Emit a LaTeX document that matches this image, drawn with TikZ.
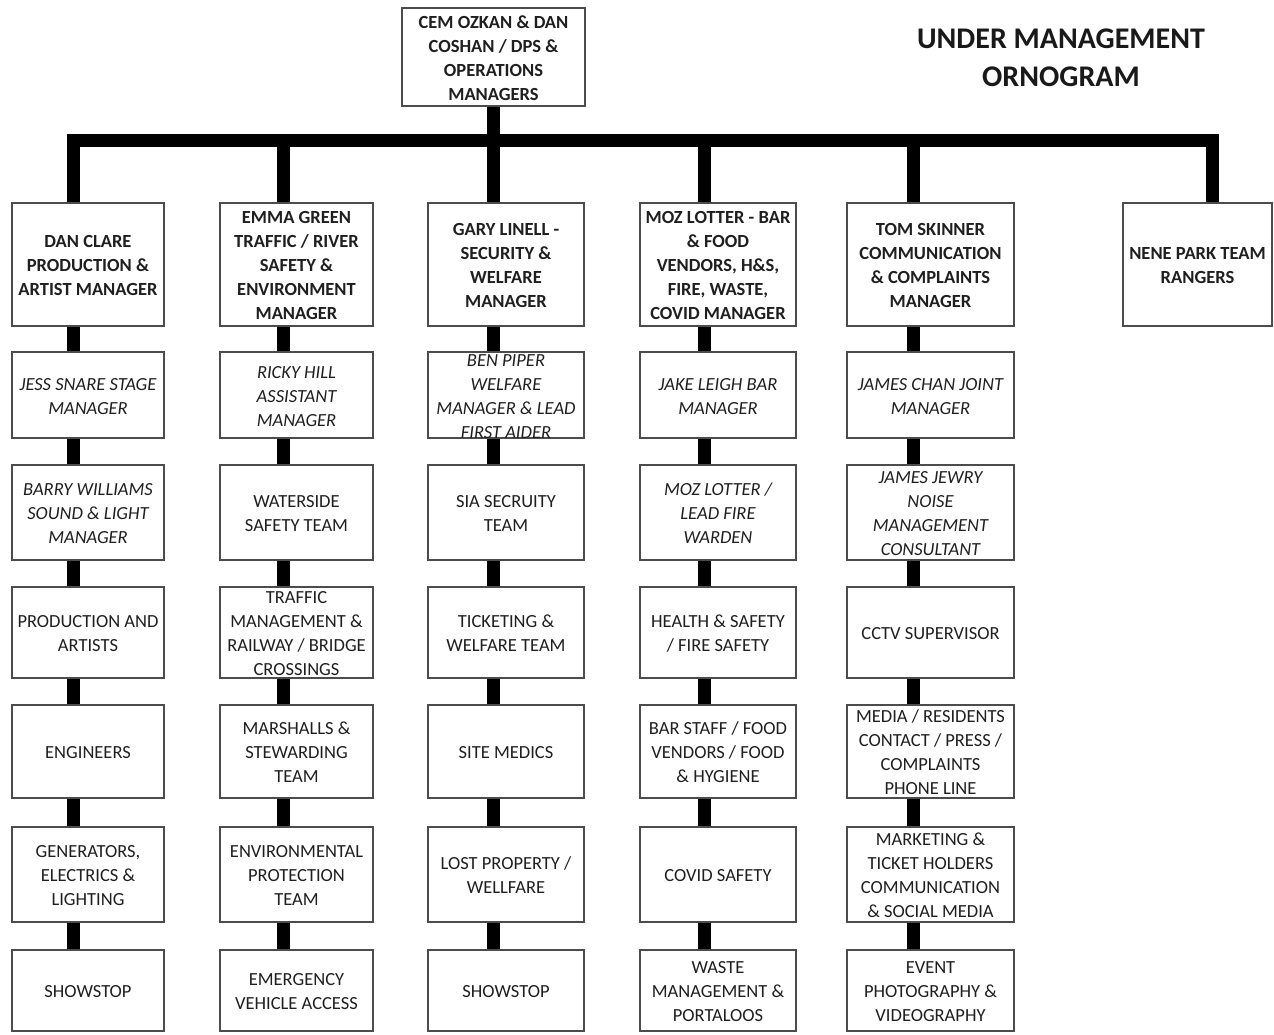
\documentclass[tikz,border=0pt]{standalone}
\usepackage{fontspec}
\setmainfont{Carlito}
\newcommand\tx[1]{\vbox to 0pt{\kern5pt\vss\hbox to 0pt{\hss\begin{tabular}{@{}c@{}}#1\end{tabular}\hss}\vss}}
\newcommand\ttx[1]{\vbox to 0pt{\vss\hbox to 0pt{\hss\begin{tabular}{@{}c@{}}#1\end{tabular}\hss}\vss}}
\tikzset{
  box/.style={draw=black!70, line width=1.4pt, fill=white, inner sep=0pt, text=black!88,
    font=\fontsize{18.5}{24}\selectfont},
  mgr/.style={box, font=\fontsize{18.5}{24}\selectfont\bfseries},
  asst/.style={box, font=\fontsize{18.5}{24}\selectfont\itshape},
  team/.style={box},
  conn/.style={line width=13pt, black, line join=miter},
  c1/.style={minimum width=152pt}, c2/.style={minimum width=153pt},
  c3/.style={minimum width=156pt}, c4/.style={minimum width=156pt},
  c5/.style={minimum width=167pt}, c6/.style={minimum width=149pt},
  r1/.style={minimum height=123pt}, r2/.style={minimum height=86pt},
  r3/.style={minimum height=95pt}, r4/.style={minimum height=91pt},
  r5/.style={minimum height=93pt}, r6/.style={minimum height=95pt},
  r7/.style={minimum height=81pt},
  title/.style={inner sep=0pt, text=black!90, font=\fontsize{30}{38}\selectfont\bfseries}
}
\begin{document}
\begin{tikzpicture}[x=1pt, y=-1pt]
\useasboundingbox (0,0) rectangle (1274,1034);
\fill[white] (0,0) rectangle (1274,1034);

% title
\node[title] (ttl) at (1061,60) {\ttx{UNDER MANAGEMENT\\ORNOGRAM}};

% top box
\node[mgr, minimum width=183pt, minimum height=98pt] (top) at (493.5,57)
  {\tx{CEM OZKAN \& DAN\\COSHAN / DPS \&\\OPERATIONS\\MANAGERS}};

% bus coordinates
\coordinate (k0) at (493.5,140);
\coordinate (k1) at (73.5,140);
\coordinate (k2) at (283,140);
\coordinate (k3) at (493.5,140);
\coordinate (k4) at (704.5,140);
\coordinate (k5) at (913.5,140);
\coordinate (k6) at (1212,140);

% column 1
\node[mgr,c1,r1]  (a1) at (88,264.5) {\tx{DAN CLARE\\PRODUCTION \&\\ARTIST MANAGER}};
\node[asst,c1,r2] (a2) at (88,395)   {\tx{JESS SNARE STAGE\\MANAGER}};
\node[asst,c1,r3] (a3) at (88,512.5) {\tx{BARRY WILLIAMS\\SOUND \& LIGHT\\MANAGER}};
\node[team,c1,r4] (a4) at (88,632.5) {\tx{PRODUCTION AND\\ARTISTS}};
\node[team,c1,r5] (a5) at (88,751.5) {\tx{ENGINEERS}};
\node[team,c1,r6] (a6) at (88,874.5) {\tx{GENERATORS,\\ELECTRICS \&\\LIGHTING}};
\node[team,c1,r7] (a7) at (88,990.5) {\tx{SHOWSTOP}};

% column 2
\node[mgr,c2,r1]  (b1) at (296.5,264.5) {\tx{EMMA GREEN\\TRAFFIC / RIVER\\SAFETY \&\\ENVIRONMENT\\MANAGER}};
\node[asst,c2,r2] (b2) at (296.5,395)   {\tx{RICKY HILL\\ASSISTANT\\MANAGER}};
\node[team,c2,r3] (b3) at (296.5,512.5) {\tx{WATERSIDE\\SAFETY TEAM}};
\node[team,c2,r4] (b4) at (296.5,632.5) {\tx{TRAFFIC\\MANAGEMENT \&\\RAILWAY / BRIDGE\\CROSSINGS}};
\node[team,c2,r5] (b5) at (296.5,751.5) {\tx{MARSHALLS \&\\STEWARDING\\TEAM}};
\node[team,c2,r6] (b6) at (296.5,874.5) {\tx{ENVIRONMENTAL\\PROTECTION\\TEAM}};
\node[team,c2,r7] (b7) at (296.5,990.5) {\tx{EMERGENCY\\VEHICLE ACCESS}};

% column 3
\node[mgr,c3,r1]  (d1) at (506,264.5) {\tx{GARY LINELL -\\SECURITY \&\\WELFARE\\MANAGER}};
\node[asst,c3,r2] (d2) at (506,395)   {\tx{BEN PIPER\\WELFARE\\MANAGER \& LEAD\\FIRST AIDER}};
\node[team,c3,r3] (d3) at (506,512.5) {\tx{SIA SECRUITY\\TEAM}};
\node[team,c3,r4] (d4) at (506,632.5) {\tx{TICKETING \&\\WELFARE TEAM}};
\node[team,c3,r5] (d5) at (506,751.5) {\tx{SITE MEDICS}};
\node[team,c3,r6] (d6) at (506,874.5) {\tx{LOST PROPERTY /\\WELLFARE}};
\node[team,c3,r7] (d7) at (506,990.5) {\tx{SHOWSTOP}};

% column 4
\node[mgr,c4,r1]  (e1) at (718,264.5) {\tx{MOZ LOTTER - BAR\\\& FOOD\\VENDORS, H\&S,\\FIRE, WASTE,\\COVID MANAGER}};
\node[asst,c4,r2] (e2) at (718,395)   {\tx{JAKE LEIGH BAR\\MANAGER}};
\node[asst,c4,r3] (e3) at (718,512.5) {\tx{MOZ LOTTER /\\LEAD FIRE\\WARDEN}};
\node[team,c4,r4] (e4) at (718,632.5) {\tx{HEALTH \& SAFETY\\/ FIRE SAFETY}};
\node[team,c4,r5] (e5) at (718,751.5) {\tx{BAR STAFF / FOOD\\VENDORS / FOOD\\\& HYGIENE}};
\node[team,c4,r6] (e6) at (718,874.5) {\tx{COVID SAFETY}};
\node[team,c4,r7] (e7) at (718,990.5) {\tx{WASTE\\MANAGEMENT \&\\PORTALOOS}};

% column 5
\node[mgr,c5,r1]  (f1) at (930.5,264.5) {\tx{TOM SKINNER\\COMMUNICATION\\\& COMPLAINTS\\MANAGER}};
\node[asst,c5,r2] (f2) at (930.5,395)   {\tx{JAMES CHAN JOINT\\MANAGER}};
\node[asst,c5,r3] (f3) at (930.5,512.5) {\tx{JAMES JEWRY\\NOISE\\MANAGEMENT\\CONSULTANT}};
\node[team,c5,r4] (f4) at (930.5,632.5) {\tx{CCTV SUPERVISOR}};
\node[team,c5,r5] (f5) at (930.5,751.5) {\tx{MEDIA / RESIDENTS\\CONTACT / PRESS /\\COMPLAINTS\\PHONE LINE}};
\node[team,c5,r6] (f6) at (930.5,874.5) {\tx{MARKETING \&\\TICKET HOLDERS\\COMMUNICATION\\\& SOCIAL MEDIA}};
\node[team,c5,r7] (f7) at (930.5,990.5) {\tx{EVENT\\PHOTOGRAPHY \&\\VIDEOGRAPHY}};

% column 6
\node[mgr,c6,r1] (g1) at (1197.5,264.5) {\tx{NENE PARK TEAM\\RANGERS}};

% connectors
\draw[conn] (top.south) -- (k0);
\draw[conn] (a1.north -| k1) -- (k1) -- (k6) -- (g1.north -| k6);
\draw[conn] (k2) -- (b1.north -| k2);
\draw[conn] (k3) -- (d1.north -| k3);
\draw[conn] (k4) -- (e1.north -| k4);
\draw[conn] (k5) -- (f1.north -| k5);

\foreach \c/\k in {a/k1,b/k2,d/k3,e/k4,f/k5}{
  \foreach \i [evaluate=\i as \j using int(\i+1)] in {1,...,6}{
    \draw[conn] (\c\i.south -| \k) -- (\c\j.north -| \k);
  }
}
\end{tikzpicture}
\end{document}
